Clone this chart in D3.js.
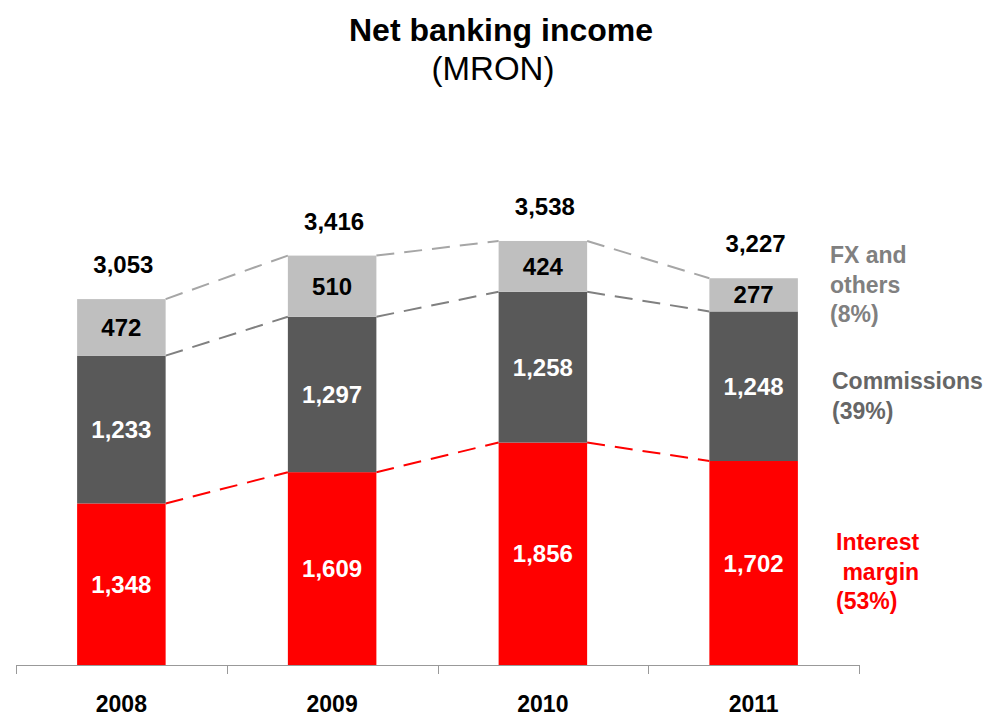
<!DOCTYPE html>
<html>
<head>
<meta charset="utf-8">
<script src="https://cdn.jsdelivr.net/npm/d3@7"></script>
<style>
  html, body { margin: 0; padding: 0; background: #fff; }
  svg { display: block; font-family: "Liberation Sans", Arial, Helvetica, sans-serif; }
</style>
</head>
<body>
<svg id="chart" width="992" height="716"></svg>
<script>
// Net banking income by component, MRON
const years = ["2008", "2009", "2010", "2011"];
const interestMargin = [1348, 1609, 1856, 1702];
const commissions = [1233, 1297, 1258, 1248];
const fxOthers = [472, 510, 424, 277];
const totals = [3053, 3416, 3538, 3227];

const seriesKeys = ["interest", "commissions", "fx"];
const seriesColors = { interest: "#FF0000", commissions: "#595959", fx: "#BFBFBF" };
const lineColors = { interest: "#FF0000", commissions: "#808080", fx: "#A6A6A6" };

const legendItems = [
  { key: "fx", lines: ["FX and", "others", "(8%)"], color: "#808080", x: 830, y: 263 },
  { key: "commissions", lines: ["Commissions", "(39%)"], color: "#666666", x: 832, y: 389 },
  { key: "interest", lines: ["Interest", " margin", "(53%)"], color: "#FF0000", x: 836, y: 550 }
];

const rows = years.map((y, i) => ({
  year: y, interest: interestMargin[i], commissions: commissions[i], fx: fxOthers[i], total: totals[i]
}));

const svg = d3.select("#chart");
const fmt = d3.format(",");

const x = d3.scaleBand().domain(years).range([16, 859]).paddingInner(0.58).paddingOuter(0.29);
const y = d3.scaleLinear().domain([0, 4000]).range([665, 185.6]);

const stacked = d3.stack().keys(seriesKeys)(rows);

// Title
svg.append("text").attr("x", 501).attr("y", 41).attr("text-anchor", "middle")
  .attr("font-size", 32).attr("font-weight", "bold").attr("fill", "#000").text("Net banking income");
svg.append("text").attr("x", 493).attr("y", 80).attr("text-anchor", "middle")
  .attr("font-size", 33).attr("fill", "#000").text("(MRON)");

// Dashed connectors between the tops of matching segments
stacked.forEach(layer => {
  const key = layer.key;
  for (let i = 0; i < layer.length - 1; i++) {
    const a = layer[i], b = layer[i + 1];
    svg.append("line")
      .attr("x1", x(years[i]) + x.bandwidth()).attr("y1", y(a[1]))
      .attr("x2", x(years[i + 1])).attr("y2", y(b[1]))
      .attr("stroke", lineColors[key]).attr("stroke-width", 2)
      .attr("stroke-dasharray", "18,10");
  }
});

// Stacked bars
const layers = svg.append("g").selectAll("g").data(stacked).join("g")
  .attr("fill", d => seriesColors[d.key]);
layers.selectAll("rect").data(d => d).join("rect")
  .attr("x", d => x(d.data.year))
  .attr("width", x.bandwidth())
  .attr("y", d => y(d[1]))
  .attr("height", d => y(d[0]) - y(d[1]));

// Segment value labels
stacked.forEach(layer => {
  svg.append("g").selectAll("text").data(layer).join("text")
    .attr("x", d => x(d.data.year) + x.bandwidth() / 2)
    .attr("y", d => (y(d[0]) + y(d[1])) / 2)
    .attr("dy", "0.36em")
    .attr("text-anchor", "middle")
    .attr("font-size", 24).attr("font-weight", "bold")
    .attr("fill", layer.key === "fx" ? "#000" : "#fff")
    .text(d => fmt(d.data[layer.key]));
});

// Totals above bars
svg.append("g").selectAll("text").data(rows).join("text")
  .attr("x", d => x(d.year) + x.bandwidth() / 2 + 2)
  .attr("y", d => y(d.total) - 26)
  .attr("text-anchor", "middle")
  .attr("font-size", 24).attr("font-weight", "bold").attr("fill", "#000")
  .text(d => fmt(d.total));

// Category axis with boundary ticks
const axisG = svg.append("g");
axisG.append("line").attr("x1", 16).attr("x2", 859).attr("y1", 665.5).attr("y2", 665.5)
  .attr("stroke", "#999").attr("stroke-width", 1.2);
const step = x.step();
d3.range(years.length + 1).forEach(i => {
  const tx = Math.round(16 + i * step) + 0.5;
  axisG.append("line").attr("x1", tx).attr("x2", tx).attr("y1", 665).attr("y2", 674)
    .attr("stroke", "#999").attr("stroke-width", 1);
});
axisG.selectAll("text.year").data(years).join("text")
  .attr("class", "year")
  .attr("x", d => x(d) + x.bandwidth() / 2)
  .attr("y", 712)
  .attr("text-anchor", "middle")
  .attr("font-size", 23).attr("font-weight", "bold").attr("fill", "#000")
  .text(d => d);

// Series labels on the right
legendItems.forEach(item => {
  const t = svg.append("text").attr("x", item.x).attr("y", item.y)
    .attr("font-size", 23).attr("font-weight", "bold").attr("fill", item.color)
    .attr("xml:space", "preserve").style("white-space", "pre");
  item.lines.forEach((ln, i) => {
    t.append("tspan").attr("x", item.x).attr("dy", i === 0 ? 0 : 29.5).text(ln);
  });
});
</script>
</body>
</html>
